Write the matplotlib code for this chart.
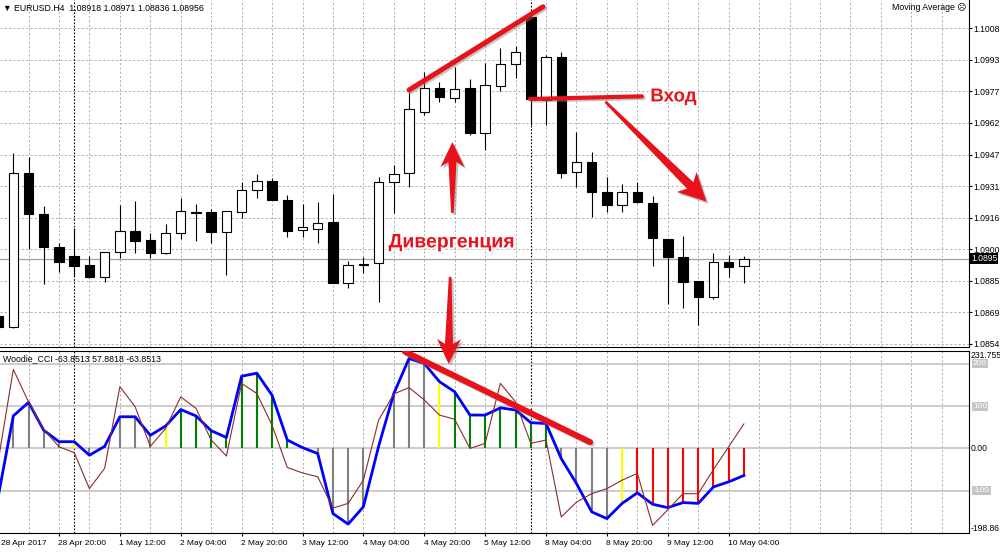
import numpy as np
import matplotlib
matplotlib.use('Agg')
import matplotlib.pyplot as plt
import matplotlib.transforms as mtransforms
import matplotlib.patheffects as pe
from matplotlib.patches import Polygon

plt.rcParams['font.family'] = ['Liberation Sans', 'DejaVu Sans']

# EURUSD H4 candles (index 0..49)
opens = [1.08677, 1.08623, 1.09373, 1.09174, 1.09015, 1.08969, 1.08925, 1.08868, 1.08987, 1.09091,
         1.09047, 1.08982, 1.09080, 1.09186, 1.09182, 1.09088, 1.09185, 1.09291, 1.09335, 1.09242,
         1.09096, 1.09101, 1.09137, 1.08836, 1.08926, 1.08934, 1.09329, 1.09373, 1.09673, 1.09787,
         1.09742, 1.09791, 1.09568, 1.09800, 1.09904, 1.10134, 1.09730, 1.09939, 1.09378, 1.09429,
         1.09283, 1.09218, 1.09280, 1.09229, 1.09052, 1.08963, 1.08847, 1.08768, 1.08941, 1.08918]
highs = [1.08691, 1.09472, 1.09451, 1.09215, 1.09031, 1.09104, 1.08969, 1.08990, 1.09218, 1.09238,
         1.09080, 1.09125, 1.09251, 1.09223, 1.09197, 1.09189, 1.09329, 1.09369, 1.09351, 1.09267,
         1.09223, 1.09234, 1.09270, 1.08945, 1.08966, 1.09356, 1.09413, 1.09771, 1.09868, 1.09820,
         1.09893, 1.09833, 1.09909, 1.09982, 1.09995, 1.10145, 1.09950, 1.09963, 1.09574, 1.09478,
         1.09356, 1.09320, 1.09332, 1.09262, 1.09052, 1.09067, 1.08847, 1.08982, 1.08974, 1.08971]
lows = [1.08613, 1.08618, 1.09003, 1.08831, 1.08893, 1.08872, 1.08860, 1.08841, 1.08961, 1.08982,
        1.08961, 1.08981, 1.09051, 1.09044, 1.09034, 1.08877, 1.09153, 1.09251, 1.09242, 1.09063,
        1.09063, 1.09034, 1.08835, 1.08812, 1.08888, 1.08746, 1.09181, 1.09304, 1.09657, 1.09722,
        1.09722, 1.09560, 1.09486, 1.09776, 1.09836, 1.09608, 1.09608, 1.09348, 1.09307, 1.09158,
        1.09182, 1.09185, 1.09228, 1.08922, 1.08735, 1.08717, 1.08633, 1.08760, 1.08868, 1.08836]
closes = [1.08623, 1.09374, 1.09173, 1.09012, 1.08939, 1.08920, 1.08868, 1.08987, 1.09091, 1.09044,
          1.08982, 1.09080, 1.09189, 1.09179, 1.09088, 1.09189, 1.09291, 1.09335, 1.09242, 1.09093,
          1.09109, 1.09132, 1.08836, 1.08925, 1.08930, 1.09329, 1.09368, 1.09685, 1.09787, 1.09743,
          1.09784, 1.09568, 1.09803, 1.09904, 1.09966, 1.09735, 1.09939, 1.09373, 1.09429, 1.09280,
          1.09218, 1.09280, 1.09231, 1.09056, 1.08963, 1.08844, 1.08768, 1.08941, 1.08917, 1.08956]
last_price = 1.08956

# Woodie CCI: trend CCI (blue), turbo CCI (brown), histogram state
cci_trend = [-115, 77, 109, 43, 16, 16, -16, 5, 75, 75,
             31, 53, 92, 77, 42, 26, 171, 178, 126, 20,
             2, -12, -154, -179, -138, 5, 130, 213, 201, 158,
             134, 79, 79, 96, 91, 61, 59, -24, -83, -150,
             -166, -130, -105, -132, -140, -128, -130, -91, -79, -64]
cci_turbo = [-31, 187, 110, 45, 4, -10, -95, -47, 146, 99,
             5, 47, 122, 95, 20, -18, 154, 130, 55, -45,
             -58, -67, -141, -130, -75, 67, 129, 144, 115, 79,
             69, 0, 12, 154, 110, 12, 20, -162, -127, -107,
             -95, -75, -59, -182, -145, -107, -107, -50, 4, 58]
hist_state = ['n', 'n', 'n', 'n', 'n', 'y', 'n', 'n', 'n', 'n',
              'n', 'y', 'g', 'g', 'g', 'g', 'g', 'g', 'g', 'g',
              'n', 'n', 'n', 'n', 'n', 'n', 'n', 'n', 'n', 'y',
              'g', 'g', 'g', 'g', 'g', 'g', 'g', 'n', 'n', 'n',
              'n', 'y', 'r', 'r', 'r', 'r', 'r', 'r', 'r', 'r']
cci_levels = [200, 100, 0, -100]

time_labels = ['28 Apr 2017', '28 Apr 20:00', '1 May 12:00', '2 May 04:00', '2 May 20:00',
               '3 May 12:00', '4 May 04:00', '4 May 20:00', '5 May 12:00', '8 May 04:00',
               '8 May 20:00', '9 May 12:00', '10 May 04:00']
price_labels = ['1.0854', '1.0869', '1.0885', '1.0900', '1.0916', '1.0931',
                '1.0947', '1.0962', '1.0977', '1.0993', '1.1008']
week_starts = [5, 35]

# hand drawn annotations (candle index, price / cci value)
upper_trend = [(27.0, 1.09779), (35.8, 1.10185)]
entry_line = [(34.95, 1.09735), (42.3, 1.09748)]
entry_arrow = [(39.9, 1.09722), (46.55, 1.09234)]
up_arrow = [(29.85, 1.09179), (29.85, 1.09525)]
down_arrow = [(29.7, 1.08867), (29.6, 1.08442)]
cci_trend_line = [(26.73, 229), (38.9, 15)]

x = np.arange(len(opens))
grid_c = '#b0b0b0'
dash = (0, (2.2, 2.2))
red = '#e8121b'

fig = plt.figure(figsize=(10, 5.54), dpi=100, facecolor='white')
ax = fig.add_axes([0, 1 - 347 / 554, 0.969, 347 / 554])
ax2 = fig.add_axes([0, 1 - 532.5 / 554, 0.969, 182 / 554])
ax.set_zorder(3)

xmin, xmax = 0.125, 63.79
for a in (ax, ax2):
    a.set_xlim(xmin, xmax)
    a.spines['left'].set_visible(False)
    for g in range(2, 64, 2):
        a.axvline(g, color=grid_c, ls=dash, lw=0.7, zorder=0)
    for s in week_starts:
        a.axvline(s, color='black', ls=(0, (1.5, 1.5)), lw=0.8, zorder=0.5)

# ---- price panel ----
ax.set_ylim(1.08525, 1.10218)
ax.spines['top'].set_visible(False)
price_ticks = np.linspace(1.0854, 1.1008, len(price_labels))
for p in price_ticks:
    ax.axhline(p, color=grid_c, ls=dash, lw=0.7, zorder=0)
ax.axhline(last_price, color='#a0a0a0', lw=0.9, zorder=0.6)

ax.vlines(x, lows, highs, color='black', lw=0.8, zorder=2)
bull = [c >= o for o, c in zip(opens, closes)]
bottoms = [min(o, c) for o, c in zip(opens, closes)]
heights = [max(abs(c - o), 0.000004) for o, c in zip(opens, closes)]
ax.bar(x, heights, bottom=bottoms, width=0.62,
       color=['white' if b else 'black' for b in bull],
       edgecolor='black', linewidth=0.8, zorder=3)

ax.yaxis.tick_right()
ax.set_yticks(price_ticks)
ax.set_yticklabels(price_labels)
ax.tick_params(axis='y', labelsize=6.2, length=2.5, pad=1.0, direction='out')
ax.set_xticks([])
ax.text(1.002, last_price, '1.0895', transform=ax.get_yaxis_transform(), ha='left', va='center',
        fontsize=6.2, color='white', bbox=dict(boxstyle='square,pad=0.15', fc='black', ec='none'),
        clip_on=False, zorder=10)

fig.text(0.003, 1 - 8 / 554, '\u25bc EURUSD.H4  1.08918 1.08971 1.08836 1.08956',
         fontsize=6.3, va='center', ha='left')
fig.text(0.966, 1 - 8 / 554, 'Moving Average \u2639', fontsize=6.3, va='center', ha='right')

# ---- Woodie CCI panel ----
ax2.set_ylim(-198.86, 231.755)
for lv in cci_levels:
    ax2.axhline(lv, color='#c4c4c4', lw=1.2, zorder=0.7)
state_colors = {'n': '#808080', 'g': '#008000', 'y': '#ffff00', 'r': '#ff0000'}
ax2.vlines(x, 0, cci_trend, colors=[state_colors[s] for s in hist_state], lw=1.5, zorder=2)
ax2.plot(x, cci_trend, color='#0000ff', lw=2.0, zorder=3)
ax2.plot(x, cci_turbo, color='#8b2c2c', lw=0.8, zorder=4)
ax2.set_yticks([])
ax2.set_xticks(x[4::4])
ax2.set_xticklabels([])
ax2.tick_params(axis='x', length=2.5, direction='out')
ax2.text(0.003, 0.955, 'Woodie_CCI -63.8513 57.8818 -63.8513', transform=ax2.transAxes,
         fontsize=6.3, va='center', ha='left')

bt = mtransforms.blended_transform_factory(ax2.transData, ax2.transAxes)
for i, lab in zip(x[::4], time_labels):
    ax2.text(max(i - 0.05, 0.16), -0.063, lab, transform=bt, fontsize=6.0, ha='left', va='center',
             clip_on=False)

yt = ax2.get_yaxis_transform()
ax2.text(1.002, 231.755 - 12, '231.755', transform=yt, fontsize=6.2, ha='left', va='center')
ax2.text(1.002, -198.86 + 10, '-198.86', transform=yt, fontsize=6.2, ha='left', va='center')
ax2.text(1.002, 0, '0.00', transform=yt, fontsize=6.2, ha='left', va='center')
for lv in [200, 100, -100]:
    ax2.text(1.004, lv, str(lv), transform=yt, fontsize=6.0, ha='left', va='center', color='white',
             bbox=dict(boxstyle='square,pad=0.12', fc='#c4c4c4', ec='none'))

# ---- annotations ----
line_fx = [pe.SimpleLineShadow(offset=(1.2, -1.2), shadow_color='#808080', alpha=0.45), pe.Normal()]
patch_fx = [pe.SimplePatchShadow(offset=(1.5, -1.5), shadow_rgbFace='#808080', alpha=0.45), pe.Normal()]
text_fx = [pe.SimplePatchShadow(offset=(1.5, -1.5), shadow_rgbFace='#909090', alpha=0.5),
           pe.Stroke(linewidth=3, foreground='white'), pe.Normal()]

ax.plot(*zip(*upper_trend), color=red, lw=3.6, solid_capstyle='round', path_effects=line_fx, zorder=6)
ax.plot(*zip(*entry_line), color=red, lw=3.0, solid_capstyle='round', path_effects=line_fx, zorder=6)
ax2.plot(*zip(*cci_trend_line), color=red, lw=4.3, solid_capstyle='round', path_effects=line_fx, zorder=6)


def tapered_arrow(a, p0, p1, head_len, head_half, neck_half=4.0, tail_half=1.3):
    # tapered shaft with a slightly swept-back head, built in pixel space
    q0 = a.transData.transform(p0)
    q1 = a.transData.transform(p1)
    d = q1 - q0
    length = np.hypot(*d)
    u = d / length
    v = np.array([-u[1], u[0]])
    base = length - head_len
    local = [(0, -tail_half), (base + 5, -neck_half), (base, -head_half), (length, 0),
             (base, head_half), (base + 5, neck_half), (0, tail_half)]
    pts = [q0 + s * u + t * v for s, t in local]
    poly = Polygon(pts, closed=True, facecolor=red, edgecolor='none',
                   transform=mtransforms.IdentityTransform(), clip_on=False, zorder=7,
                   path_effects=patch_fx)
    a.add_artist(poly)


tapered_arrow(ax, *entry_arrow, head_len=28, head_half=14, neck_half=4.5)
tapered_arrow(ax, *up_arrow, head_len=25, head_half=12)
tapered_arrow(ax, *down_arrow, head_len=25, head_half=12)

ax.text(29.8, 1.09033, 'Дивергенция', color=red, fontsize=14, fontweight='bold',
        ha='center', va='center', path_effects=text_fx, zorder=8)
ax.text(42.85, 1.09745, 'Вход', color=red, fontsize=13.5, fontweight='bold',
        ha='left', va='center', path_effects=text_fx, zorder=8)

fig.savefig('out.png', dpi=100, facecolor='white')
